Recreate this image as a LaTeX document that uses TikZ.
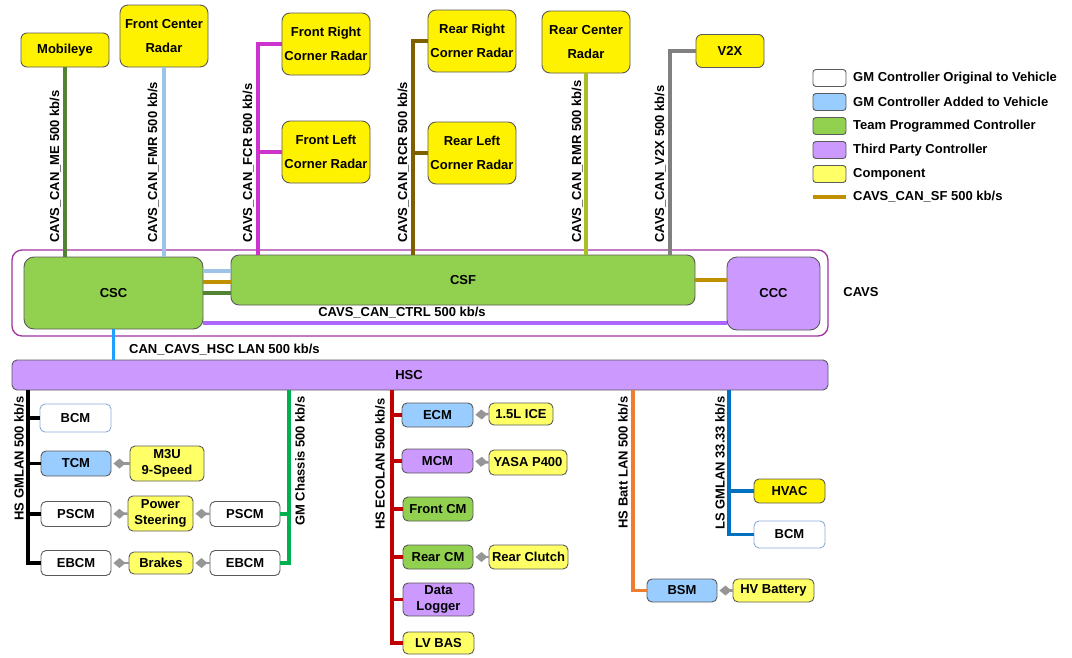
\documentclass[tikz,border=0pt]{standalone}
\usepackage{fontspec}
\setmainfont{Liberation Sans}
\usetikzlibrary{arrows.meta}
\definecolor{boxgray}{RGB}{90,90,90}
\definecolor{origblue}{RGB}{142,170,219}
\definecolor{compyellow}{RGB}{255,255,102}
\definecolor{addedblue}{RGB}{153,204,255}
\definecolor{teamgreen}{RGB}{146,208,80}
\definecolor{thirdpurple}{RGB}{204,153,255}
\definecolor{cavspurple}{RGB}{160,50,160}
\definecolor{mecol}{RGB}{84,130,53}
\definecolor{fmrcol}{RGB}{157,195,230}
\definecolor{fcrcol}{RGB}{204,51,204}
\definecolor{rcrcol}{RGB}{127,96,0}
\definecolor{rmrcol}{RGB}{170,190,40}
\definecolor{v2xcol}{RGB}{128,128,128}
\definecolor{sfcol}{RGB}{191,144,0}
\definecolor{ctrlcol}{RGB}{170,102,255}
\definecolor{hsccol}{RGB}{30,160,255}
\definecolor{chassiscol}{RGB}{0,176,80}
\definecolor{ecolancol}{RGB}{192,0,0}
\definecolor{battcol}{RGB}{237,125,49}
\definecolor{lscol}{RGB}{0,112,192}
\definecolor{linkgray}{RGB}{150,150,150}

\begin{document}
\begin{tikzpicture}[x=1pt, y=-1pt,
    box/.style={draw=boxgray, line width=0.9pt, rounded corners=5pt, align=center, inner sep=0pt,
      font=\bfseries\fontsize{13}{16}\selectfont},
    comp/.style={box, fill=compyellow},
    topcomp/.style={box, fill=yellow, rounded corners=8pt, minimum width=88pt, minimum height=62pt},
    orig/.style={box, fill=white, draw=origblue},
    added/.style={box, fill=addedblue},
    team/.style={box, fill=teamgreen},
    third/.style={box, fill=thirdpurple},
    lbl/.style={inner sep=1pt, font=\bfseries\fontsize{13}{16}\selectfont},
    buslabel/.style={lbl, rotate=90},
    bus/.style={line width=3.5pt},
    link/.style={draw=linkgray, line width=2.5pt, arrows={Diamond[length=12pt,width=10pt]-}, shorten <=2pt}]
\useasboundingbox (0,0) rectangle (1072,657);

% sensors on top
\node[topcomp, minimum width=88pt, minimum height=34pt, rounded corners=6pt] (me) at (65,50) {Mobileye};
\node[topcomp] (fmr) at (164,36) {Front Center\\[8pt]Radar};
\node[topcomp] (frcr) at (326,44) {Front Right\\[8pt]Corner Radar};
\node[topcomp] (flcr) at (326,152) {Front Left\\[8pt]Corner Radar};
\node[topcomp] (rrcr) at (472,41) {Rear Right\\[8pt]Corner Radar};
\node[topcomp] (rlcr) at (472,153) {Rear Left\\[8pt]Corner Radar};
\node[topcomp] (rmr) at (586,42) {Rear Center\\[8pt]Radar};
\node[topcomp, minimum width=68pt, minimum height=33pt, rounded corners=6pt] (v2x) at (730,51) {V2X};

% CAVS group
\node[draw=cavspurple, line width=1.3pt, rounded corners=10pt, minimum width=816pt, minimum height=86pt] (cavs) at (420,293) {};
\node[lbl] (cavslbl) at (861,292) {CAVS};
\node[team, rounded corners=10pt, minimum width=179pt, minimum height=72pt] (csc) at (113.5,293) {CSC};
\node[team, rounded corners=8pt, minimum width=464pt, minimum height=50pt] (csf) at (463,280) {CSF};
\node[third, rounded corners=10pt, minimum width=93pt, minimum height=73pt] (ccc) at (773.5,293.5) {CCC};

\coordinate (fcrbus) at (258,0);
\coordinate (rcrbus) at (413,0);
\coordinate (v2xbus) at (670,0);
\draw[bus, mecol] (me.south) -- (me.south |- csc.north);
\draw[bus, fmrcol] (fmr.south) -- (fmr.south |- csc.north);
\draw[bus, fcrcol] (frcr.west) -| (fcrbus |- csf.north);
\draw[bus, fcrcol] (flcr.west) -- (flcr.west -| fcrbus);
\draw[bus, rcrcol] (rrcr.west) -| (rcrbus |- csf.north);
\draw[bus, rcrcol] (rlcr.west) -- (rlcr.west -| rcrbus);
\draw[bus, rmrcol] (rmr.south) -- (rmr.south |- csf.north);
\draw[bus, v2xcol] (v2x.west) -| (v2xbus |- csf.north);

\node[buslabel, anchor=south west] (melbl) at (62,244) {CAVS\_CAN\_ME 500 kb/s};
\node[buslabel, anchor=south west] (fmrlbl) at (160,244) {CAVS\_CAN\_FMR 500 kb/s};
\node[buslabel, anchor=south west] (fcrlbl) at (255,244) {CAVS\_CAN\_FCR 500 kb/s};
\node[buslabel, anchor=south west] (rcrlbl) at (410,244) {CAVS\_CAN\_RCR 500 kb/s};
\node[buslabel, anchor=south west] (rmrlbl) at (584,244) {CAVS\_CAN\_RMR 500 kb/s};
\node[buslabel, anchor=south west] (v2xlbl) at (667,244) {CAVS\_CAN\_V2X 500 kb/s};

\draw[bus, fmrcol] (csc.east |- 0,271) -- (csf.west |- 0,271);
\draw[bus, sfcol] (csc.east |- 0,282) -- (csf.west |- 0,282);
\draw[bus, mecol] (csc.east |- 0,293) -- (csf.west |- 0,293);
\draw[bus, sfcol] (csf.east) -- (csf.east -| ccc.west);
\draw[bus, ctrlcol] (csc.east |- 0,323) -- (ccc.west |- 0,323);
\node[lbl] (ctrllbl) at (402,313) {CAVS\_CAN\_CTRL 500 kb/s};

% HSC and its buses
\node[third, minimum width=816pt, minimum height=30pt] (hsc) at (420,375) {\hspace*{-22pt}HSC};
\draw[bus, hsccol] (csc.south) -- (csc.south |- hsc.north);
\node[lbl, anchor=west] (hsclbl) at (128,350) {CAN\_CAVS\_HSC LAN 500 kb/s};

% HS GMLAN / GM Chassis
\node[orig, minimum width=71pt, minimum height=28pt] (bcm1) at (75.5,418) {BCM};
\node[added, minimum width=70pt, minimum height=25pt] (tcm) at (76,463.5) {TCM};
\node[comp, minimum width=74pt, minimum height=35pt] (m3u) at (167,463.5) {M3U\\9-Speed};
\node[box, fill=white, minimum width=70pt, minimum height=25pt] (pscm1) at (76,514) {PSCM};
\node[comp, minimum width=65pt, minimum height=35pt] (ps) at (160.5,513.5) {Power\\Steering};
\node[box, fill=white, minimum width=70pt, minimum height=25pt] (pscm2) at (245,514) {PSCM};
\node[box, fill=white, minimum width=70pt, minimum height=25pt] (ebcm1) at (76,563) {EBCM};
\node[comp, minimum width=64pt, minimum height=22pt] (brakes) at (161,563) {Brakes};
\node[box, fill=white, minimum width=70pt, minimum height=25pt] (ebcm2) at (245,563) {EBCM};

\coordinate (gmlan) at (28,0);
\coordinate (chassis) at (289,0);
\draw[bus, black] (gmlan |- hsc.south) |- (ebcm1.west);
\foreach \n in {bcm1, tcm, pscm1}
  \draw[bus, black] (\n.west) -- (\n.west -| gmlan);
\draw[bus, chassiscol] (chassis |- hsc.south) |- (ebcm2.east);
\draw[bus, chassiscol] (pscm2.east) -- (pscm2.east -| chassis);
\node[buslabel, anchor=south east] (gmlanlbl) at (25,395) {HS GMLAN 500 kb/s};
\node[buslabel, anchor=north east] (chassislbl) at (294,395) {GM Chassis 500 kb/s};

\draw[link] (tcm.east) -- (m3u.west);
\draw[link] (pscm1.east) -- (ps.west);
\draw[link] (ps.east) -- (pscm2.west);
\draw[link] (ebcm1.east) -- (brakes.west);
\draw[link] (brakes.east) -- (ebcm2.west);

% HS ECOLAN
\node[added, minimum width=71pt, minimum height=24pt] (ecm) at (437.5,415) {ECM};
\node[comp, minimum width=64pt, minimum height=22pt] (ice) at (521,414) {1.5L ICE};
\node[third, minimum width=71pt, minimum height=24pt] (mcm) at (437.5,461) {MCM};
\node[comp, minimum width=78pt, minimum height=25pt] (yasa) at (528,462.5) {YASA P400};
\node[team, minimum width=70pt, minimum height=24pt] (fcm) at (438,509) {Front CM};
\node[team, minimum width=70pt, minimum height=24pt] (rcm) at (438,557) {Rear CM};
\node[comp, minimum width=79pt, minimum height=24pt] (clutch) at (528.5,557) {Rear Clutch};
\node[third, minimum width=71pt, minimum height=33pt] (dlog) at (438.5,599.5) {Data\\Logger};
\node[comp, minimum width=71pt, minimum height=22pt] (lvbas) at (438.5,643) {LV BAS};

\coordinate (ecolan) at (392,0);
\draw[bus, ecolancol] (ecolan |- hsc.south) |- (lvbas.west);
\foreach \n in {ecm, mcm, fcm, rcm, dlog}
  \draw[bus, ecolancol] (\n.west) -- (\n.west -| ecolan);
\node[buslabel, anchor=south east] (ecolanlbl) at (386,397) {HS ECOLAN 500 kb/s};

\draw[link] (ecm.east) -- (ice.west);
\draw[link] (mcm.east) -- (yasa.west);
\draw[link] (rcm.east) -- (clutch.west);

% HS Batt LAN / LS GMLAN
\node[added, minimum width=70pt, minimum height=23pt] (bsm) at (682,590.5) {BSM};
\node[comp, minimum width=81pt, minimum height=23pt] (hvbat) at (773.5,590.5) {HV Battery};
\node[comp, fill=yellow, minimum width=71pt, minimum height=24pt] (hvac) at (789.5,491) {HVAC};
\node[orig, minimum width=71pt, minimum height=27pt] (bcm2) at (789.5,534.5) {BCM};

\coordinate (batt) at (633,0);
\coordinate (lsgm) at (729,0);
\draw[bus, battcol] (batt |- hsc.south) |- (bsm.west);
\draw[bus, lscol] (lsgm |- hsc.south) |- (bcm2.west);
\draw[bus, lscol] (hvac.west) -- (hvac.west -| lsgm);
\node[buslabel, anchor=south east] (battlbl) at (629,395) {HS Batt LAN 500 kb/s};
\node[buslabel, anchor=south east] (lslbl) at (726,395) {LS GMLAN 33.33 kb/s};

\draw[link] (bsm.east) -- (hvbat.west);

% legend
\foreach \c/\t [count=\i from 0] in {white/GM Controller Original to Vehicle, addedblue/GM Controller Added to Vehicle,
    teamgreen/Team Programmed Controller, thirdpurple/Third Party Controller, compyellow/Component} {
  \node[box, fill=\c, rounded corners=3pt, minimum width=33pt, minimum height=17pt] (key\i) at (829.5,78+24*\i) {};
  \node[lbl, anchor=west] (keytxt\i) at (852,78+24*\i) {\t};
}
\coordinate (keya) at (813,197);
\coordinate (keyb) at (846,197);
\draw[bus, sfcol] (keya) -- (keyb);
\node[lbl, anchor=west] (keytxt5) at (852,197) {CAVS\_CAN\_SF 500 kb/s};
\end{tikzpicture}
\end{document}
